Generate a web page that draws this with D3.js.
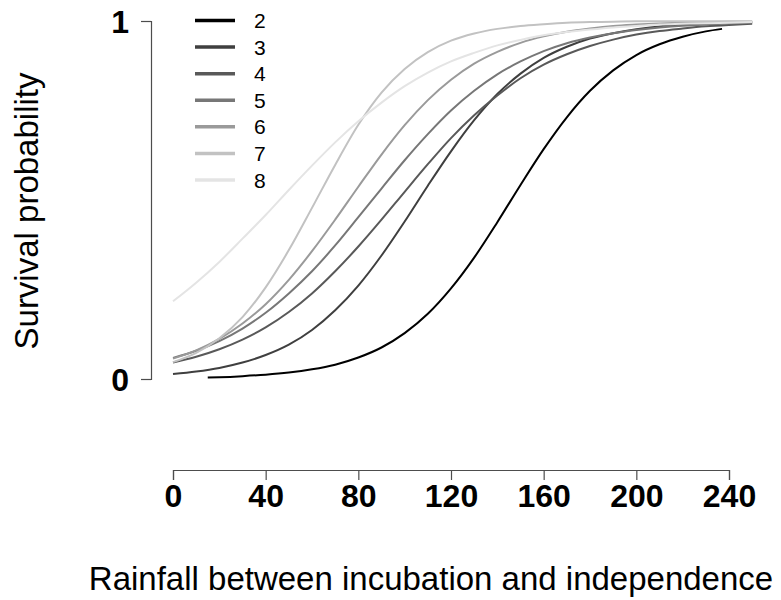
<!DOCTYPE html>
<html>
<head>
<meta charset="utf-8">
<script src="https://cdn.jsdelivr.net/npm/d3@7"></script>
<style>
  html, body { margin: 0; padding: 0; background: #fff; }
  svg { display: block; }
  text { font-family: "Liberation Sans", Arial, sans-serif; }
</style>
</head>
<body>
<svg id="chart" width="781" height="600"></svg>
<script>
// ---- data ----
const seriesNames = ["2", "3", "4", "5", "6", "7", "8"];
const seriesColors = ["#000000", "#3f3f3f", "#595959", "#777777", "#9a9a9a", "#c2c2c2", "#e4e4e4"];

const xTicks = [0, 40, 80, 120, 160, 200, 240];
const yTicks = [0, 1];

const rainfallS2 = [15, 20, 30, 40, 50, 60, 70, 80, 90, 100, 110, 120, 130, 140, 150, 160, 170, 180, 190, 200, 210, 220, 230, 237];
const survival2 = [0.004, 0.005, 0.008, 0.012, 0.018, 0.027, 0.040, 0.060, 0.088, 0.128, 0.182, 0.253, 0.339, 0.438, 0.542, 0.642, 0.731, 0.805, 0.862, 0.905, 0.935, 0.956, 0.971, 0.978];

const rainfall = [0, 10, 20, 30, 40, 50, 60, 70, 80, 90, 100, 110, 120, 130, 140, 150, 160, 170, 180, 190, 200, 210, 220, 230, 240, 250];
const survival3 = [0.014, 0.021, 0.031, 0.046, 0.067, 0.096, 0.137, 0.192, 0.261, 0.345, 0.440, 0.540, 0.636, 0.723, 0.796, 0.853, 0.897, 0.928, 0.951, 0.966, 0.977, 0.985, 0.990, 0.993, 0.995, 0.997];
const survival4 = [0.046, 0.062, 0.083, 0.110, 0.144, 0.187, 0.239, 0.301, 0.370, 0.445, 0.523, 0.600, 0.673, 0.737, 0.792, 0.840, 0.878, 0.907, 0.930, 0.948, 0.962, 0.972, 0.979, 0.985, 0.989, 0.992];
const survival5 = [0.059, 0.079, 0.106, 0.141, 0.185, 0.239, 0.301, 0.373, 0.452, 0.532, 0.611, 0.684, 0.750, 0.805, 0.851, 0.887, 0.916, 0.938, 0.954, 0.966, 0.975, 0.982, 0.987, 0.990, 0.993, 0.995];
const survival6 = [0.057, 0.080, 0.112, 0.155, 0.209, 0.277, 0.357, 0.445, 0.537, 0.627, 0.709, 0.779, 0.836, 0.881, 0.914, 0.939, 0.957, 0.970, 0.979, 0.986, 0.990, 0.993, 0.995, 0.997, 0.998, 0.998];
const survival7 = [0.047, 0.073, 0.114, 0.173, 0.256, 0.360, 0.478, 0.598, 0.710, 0.800, 0.866, 0.913, 0.945, 0.965, 0.978, 0.986, 0.991, 0.995, 0.997, 0.998, 0.999, 0.999, 0.999, 0.999, 0.999, 0.999];
const survival8 = [0.217, 0.269, 0.327, 0.392, 0.458, 0.528, 0.596, 0.661, 0.720, 0.772, 0.818, 0.856, 0.887, 0.911, 0.932, 0.947, 0.960, 0.969, 0.976, 0.982, 0.986, 0.990, 0.992, 0.994, 0.995, 0.997];

const xTitle = "Rainfall between incubation and independence";
const yTitle = "Survival probability";

// ---- build series table ----
const seriesX = [rainfallS2, rainfall, rainfall, rainfall, rainfall, rainfall, rainfall];
const seriesY = [survival2, survival3, survival4, survival5, survival6, survival7, survival8];
const series = seriesNames.map((name, i) => ({
  name,
  color: seriesColors[i],
  points: seriesX[i].map((x, j) => ({ x, y: seriesY[i][j] }))
}));

// ---- chart ----
const svg = d3.select("#chart");
const x = d3.scaleLinear().domain([0, 240]).range([173, 729]);
const y = d3.scaleLinear().domain([0, 1]).range([379, 21]);

const axisColor = "#4d4d4d";

// x axis
const gx = svg.append("g")
  .attr("transform", "translate(0,470)")
  .call(d3.axisBottom(x).tickValues(xTicks).tickSize(10).tickSizeOuter(10).tickPadding(4).tickFormat(d3.format("d")));
gx.select(".domain").attr("stroke", axisColor).attr("stroke-width", 1.2);
gx.selectAll(".tick line").attr("stroke", axisColor).attr("stroke-width", 1.2);
gx.selectAll(".tick text")
  .attr("fill", "#000")
  .attr("font-family", "'Liberation Sans', Arial, sans-serif")
  .attr("font-size", 32)
  .attr("font-weight", "bold")
  .attr("dy", "0.71em");

// y axis
const gy = svg.append("g")
  .attr("transform", "translate(151,0)")
  .call(d3.axisLeft(y).tickValues(yTicks).tickSize(10).tickSizeOuter(10).tickPadding(12).tickFormat(d3.format("d")));
gy.select(".domain").attr("stroke", axisColor).attr("stroke-width", 1.2);
gy.selectAll(".tick line").attr("stroke", axisColor).attr("stroke-width", 1.2);
gy.selectAll(".tick text")
  .attr("fill", "#000")
  .attr("font-family", "'Liberation Sans', Arial, sans-serif")
  .attr("font-size", 32)
  .attr("font-weight", "bold")
  .attr("dy", "0.36em");

// curves
const line = d3.line()
  .x(d => x(d.x))
  .y(d => y(d.y))
  .curve(d3.curveMonotoneX);

svg.append("g").selectAll("path")
  .data(series)
  .join("path")
  .attr("fill", "none")
  .attr("stroke", d => d.color)
  .attr("stroke-width", 2)
  .attr("d", d => line(d.points));

// legend
const legend = svg.append("g");
const legY = d3.scalePoint().domain(seriesNames).range([20.5, 180]);
const leg = legend.selectAll("g")
  .data(series)
  .join("g")
  .attr("transform", d => `translate(0,${legY(d.name)})`);
leg.append("line")
  .attr("x1", 195).attr("x2", 235)
  .attr("y1", 0).attr("y2", 0)
  .attr("stroke", d => d.color)
  .attr("stroke-width", 3.5);
leg.append("text")
  .attr("x", 254)
  .attr("y", 0)
  .attr("dy", "0.36em")
  .attr("font-size", 21)
  .attr("fill", "#000")
  .text(d => d.name);

// titles
svg.append("text")
  .attr("x", 431)
  .attr("y", 590)
  .attr("text-anchor", "middle")
  .attr("font-size", 33)
  .attr("fill", "#000")
  .text(xTitle);

svg.append("text")
  .attr("transform", "translate(38,211) rotate(-90)")
  .attr("text-anchor", "middle")
  .attr("font-size", 33)
  .attr("fill", "#000")
  .text(yTitle);
</script>
</body>
</html>
